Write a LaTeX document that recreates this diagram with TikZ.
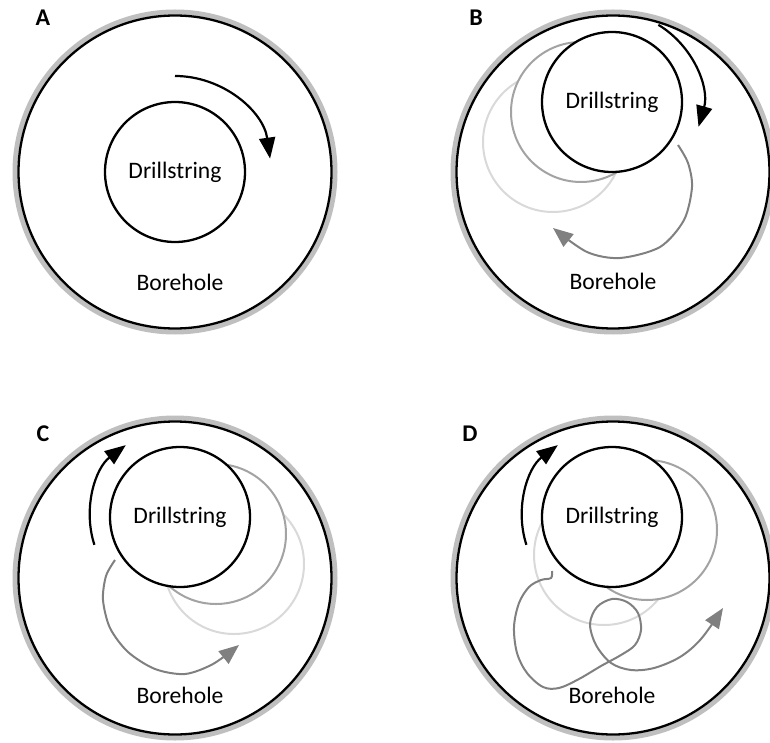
\documentclass[tikz,border=0pt]{standalone}
\usepackage{fontspec}
\setmainfont{Carlito}
\usetikzlibrary{arrows.meta}
\definecolor{ringgrey}{HTML}{BFBFBF}
\definecolor{midgrey}{HTML}{A3A3A3}
\definecolor{palegrey}{HTML}{D9D9D9}
\definecolor{arrowgrey}{HTML}{808080}
\tikzset{
  ring/.style={draw=ringgrey,line width=2.5pt},
  hole/.style={draw=black,line width=1.15pt},
  pipe/.style={circle,draw,fill=white,line width=1.15pt,minimum size=70pt,inner sep=0pt,
    font=\fontsize{11.8}{14}\selectfont},
  ghost/.style={draw=midgrey,fill=white,line width=1pt},
  paleghost/.style={draw=palegrey,line width=1pt},
  spin/.style={-{Triangle[length=10.5pt,width=8pt]},line width=1.1pt},
  whirl/.style={-{Triangle[length=10pt,width=8pt]},draw=arrowgrey,line width=1pt},
  lbl/.style={font=\fontsize{11.8}{14}\selectfont},
  casetag/.style={font=\fontsize{12}{14}\selectfont\bfseries}
}

\begin{document}
\begin{tikzpicture}[x=0.5pt,y=-0.5pt]
\useasboundingbox (0,0) rectangle (770,743);
\clip (0,0) rectangle (770,743);
% BOREHOLES
\foreach \cx/\cy/\nm in {175/172/A,613/172/B,175/578/C,613/578/D}{
  \draw [ring] (\cx,\cy) circle [radius=160];
  \draw [hole] (\cx,\cy) circle [radius=156.5];
}
% A: CONCENTRIC ROTATION
\node [pipe] (dsA) at (175,172) {Drillstring};
\draw [spin] (dsA.center) ++(-90:96) arc [start angle=-90,end angle=-8,radius=96];
\node [lbl] (bhA) at (180,282) {Borehole};
\node [casetag] (tagA) at (43,18) {A};
% B: FORWARD WHIRL
\draw [paleghost] (553,142) circle [radius=70];
\draw [ghost] (581,112) circle [radius=70];
\node [pipe] (dsB) at (612,102) {Drillstring};
\draw [spin] (dsB.center) ++(-59:90) arc [start angle=-59,end angle=16,radius=90];
\draw [whirl] plot [smooth] coordinates {(678,145) (688,163) (692,187) (684,220)
  (660,247) (620,258) (587,252) (553,228)};
\node [lbl] (bhB) at (613,281) {Borehole};
\node [casetag] (tagB) at (476,18) {B};
% C: BACKWARD WHIRL
\draw [paleghost] (234,564) circle [radius=70];
\draw [ghost] (216,534) circle [radius=70];
\node [pipe] (dsC) at (180,517) {Drillstring};
\draw [spin] (dsC.center) ++(-198:90) arc [start angle=-198,end angle=-127,radius=90];
\draw [whirl] plot [smooth] coordinates {(115,560) (106,576) (103,600) (110,628)
  (128,652) (155,669) (185,674) (213,664) (239,645)};
\node [lbl] (bhC) at (180,695) {Borehole};
\node [casetag] (tagC) at (43,434) {C};
% D: CHAOTIC WHIRL
\draw [paleghost] (604,555) circle [radius=70];
\draw [ghost] (647,530) circle [radius=70];
\node [pipe] (dsD) at (612,517) {Drillstring};
\draw [spin] (dsD.center) ++(-198:90) arc [start angle=-198,end angle=-127,radius=90];
\draw [whirl] plot [smooth,tension=0.55] coordinates {(552,571) (551,578) (541,580)
  (529,587) (519,603) (514,627) (517,653) (527,673) (543,687) (559,688) (579,679)
  (601,666) (621,655) (635,645) (641,630) (638,613) (627,602) (612,599) (597,607)
  (590,624) (596,645) (611,663) (631,670) (654,668) (680,657) (701,639) (723,608)};
\node [lbl] (bhD) at (612,695) {Borehole};
\node [casetag] (tagD) at (470,434) {D};
\end{tikzpicture}
\end{document}
